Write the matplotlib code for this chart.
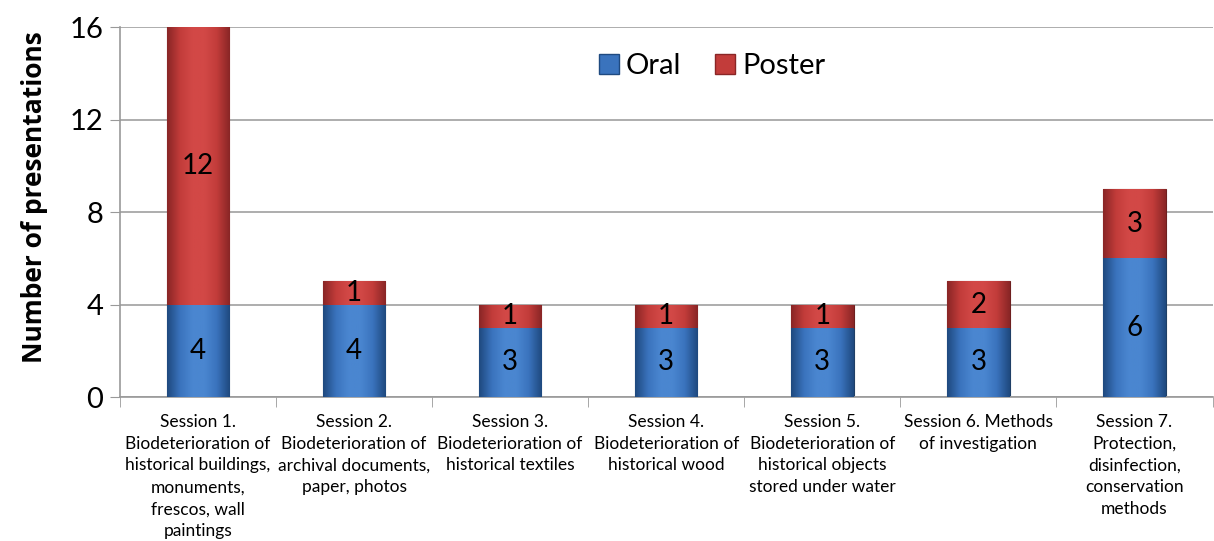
import numpy as np
import matplotlib as mpl
mpl.use('Agg')
import matplotlib.pyplot as plt
from matplotlib.colors import LinearSegmentedColormap
from matplotlib.lines import Line2D

plt.rcParams['font.family'] = ['Lato', 'DejaVu Sans']

sessions = [
    "Session 1.\nBiodeterioration of\nhistorical buildings,\nmonuments,\nfrescos, wall\npaintings",
    "Session 2.\nBiodeterioration of\narchival documents,\npaper, photos",
    "Session 3.\nBiodeterioration of\nhistorical textiles",
    "Session 4.\nBiodeterioration of\nhistorical wood",
    "Session 5.\nBiodeterioration of\nhistorical objects\nstored under water",
    "Session 6. Methods\nof investigation",
    "Session 7.\nProtection,\ndisinfection,\nconservation\nmethods",
]
oral = [4, 4, 3, 3, 3, 3, 6]
poster = [12, 1, 1, 1, 1, 2, 3]

blue_cmap = LinearSegmentedColormap.from_list(
    'b', ['#1f4a80', '#3a73bd', '#4a86d0', '#4a86d0', '#3a73bd', '#1f4a80'])
red_cmap = LinearSegmentedColormap.from_list(
    'r', ['#8a2626', '#c23c3a', '#d24846', '#d24846', '#c23c3a', '#8a2626'])

fig = plt.figure(figsize=(12.14, 5.41), dpi=100)
ax = fig.add_axes([0.0988, 0.266, 0.9, 0.684])

x = np.arange(len(sessions))
width = 0.4
grad = np.linspace(0, 1, 64).reshape(1, -1)


def gradient_bars(bars, cmap):
    for b in bars:
        x0, y0 = b.get_x(), b.get_y()
        w, h = b.get_width(), b.get_height()
        im = ax.imshow(grad, cmap=cmap, aspect='auto',
                       extent=(x0, x0 + w, y0, y0 + h), zorder=3)
        im.set_clip_path(b)


b1 = ax.bar(x, oral, width, color='#4a86d0', edgecolor='#1f3f66',
            linewidth=0.8, zorder=2, label='Oral')
b2 = ax.bar(x, poster, width, bottom=oral, color='#d24846',
            edgecolor='#6e1f1f', linewidth=0.8, zorder=2, label='Poster')
gradient_bars(b1, blue_cmap)
gradient_bars(b2, red_cmap)

for i in range(len(sessions)):
    ax.text(x[i], oral[i] / 2, str(oral[i]), ha='center', va='center',
            fontsize=20, zorder=5)
    ax.text(x[i], oral[i] + poster[i] / 2, str(poster[i]), ha='center',
            va='center', fontsize=20, zorder=5)

ax.set_xlim(-0.5, len(sessions) - 0.5)
ax.set_ylim(0, 16)
ax.set_yticks([0, 4, 8, 12, 16])
ax.tick_params(axis='y', labelsize=21, length=7, color='#999999', pad=5)
ax.set_xticks(x)
ax.set_xticklabels(sessions, fontsize=12.5, linespacing=1.45)
ax.set_xticks(np.arange(-0.5, len(sessions), 1), minor=True)
ax.tick_params(axis='x', which='major', length=0, pad=12)
ax.tick_params(axis='x', which='minor', length=7, color='#999999')
ax.yaxis.grid(True, color='#a0a0a0', linewidth=1.2, zorder=0)
ax.set_axisbelow(True)
for s in ['top', 'right']:
    ax.spines[s].set_visible(False)
for s in ['left', 'bottom']:
    ax.spines[s].set_color('#999999')
    ax.spines[s].set_linewidth(1.2)

ax.set_ylabel('Number of presentations', fontsize=19, fontweight='bold',
              family=['Open Sans', 'DejaVu Sans'])
ax.yaxis.set_label_coords(-0.066, 0.54)

handles = [
    Line2D([], [], marker='s', linestyle='', markersize=14,
           markerfacecolor='#3a73bd', markeredgecolor='#1f4a80'),
    Line2D([], [], marker='s', linestyle='', markersize=14,
           markerfacecolor='#c23c3a', markeredgecolor='#8a2626'),
]
ax.legend(handles, ['Oral', 'Poster'], loc='center', ncol=2,
          bbox_to_anchor=(0.54, 0.895), frameon=False, fontsize=21,
          handletextpad=0.1, columnspacing=1.0, handlelength=1.0)

fig.savefig('out.png', dpi=100)
